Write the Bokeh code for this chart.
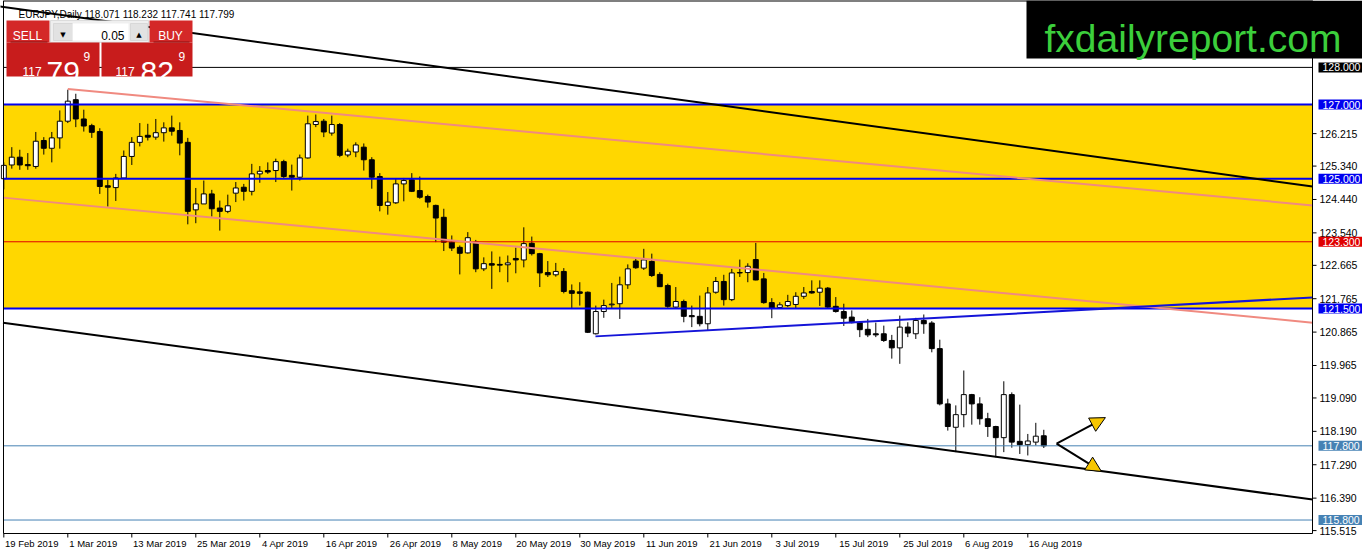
from math import pi
from bokeh.plotting import figure
from bokeh.models import (Range1d, FixedTicker, CustomJSTickFormatter,
                          BoxAnnotation, Label, Arrow, NormalHead)
from bokeh.core.properties import value
from bokeh.embed import file_html
from bokeh.resources import INLINE

# ---------------- data (EURJPY daily) ----------------
bar_open = [125.00, 125.37, 125.58, 125.38, 125.33, 126.03, 125.82, 126.10, 126.55, 127.13,
            126.61, 126.43, 126.27, 124.81, 124.76, 125.02, 125.60, 125.98, 126.17, 126.12,
            126.24, 126.37, 126.30, 125.98, 124.16, 124.32, 124.59, 124.21, 124.12, 124.61,
            124.77, 124.66, 125.13, 125.22, 125.22, 125.46, 125.09, 125.04, 125.56, 126.46,
            126.55, 126.23, 126.46, 125.64, 125.72, 125.85, 125.51, 125.06, 124.28, 124.35,
            124.86, 124.97, 124.68, 124.52, 124.28, 123.96, 123.29, 123.15, 123.00, 123.29,
            122.57, 122.71, 122.69, 122.68, 122.85, 122.81, 123.26, 122.98, 122.47, 122.41,
            122.50, 121.98, 121.95, 121.94, 120.82, 121.42, 121.60, 121.63, 122.14, 122.78,
            122.59, 122.77, 122.42, 122.12, 121.54, 121.69, 121.31, 121.29, 121.09, 121.94,
            122.23, 121.74, 122.47, 122.47, 122.82, 122.30, 121.66, 121.53, 121.58, 121.61,
            121.83, 121.96, 121.94, 122.05, 121.56, 121.42, 121.27, 121.12, 120.94, 120.82,
            120.82, 120.64, 120.44, 121.00, 120.82, 121.18, 121.11, 120.42, 118.93, 118.30,
            118.64, 119.18, 118.93, 118.53, 118.32, 118.02, 119.18, 117.92, 117.83, 117.90,
            118.071]
bar_high = [125.44, 125.85, 125.78, 125.69, 126.26, 126.12, 126.26, 126.84, 127.40, 127.29,
            126.86, 126.48, 126.36, 124.97, 125.13, 125.76, 126.12, 126.50, 126.48, 126.61,
            126.52, 126.70, 126.52, 126.10, 124.75, 124.95, 124.70, 124.41, 124.57, 124.91,
            124.86, 125.40, 125.34, 125.44, 125.54, 125.51, 125.38, 125.65, 126.70, 126.73,
            126.61, 126.70, 126.50, 125.81, 125.98, 125.95, 125.58, 125.15, 124.64, 125.01,
            125.02, 125.15, 125.06, 124.57, 124.30, 124.19, 123.47, 123.20, 123.56, 123.35,
            122.88, 123.04, 122.90, 122.93, 123.14, 123.69, 123.44, 123.00, 122.78, 122.73,
            122.59, 122.15, 122.21, 121.96, 121.58, 121.74, 122.19, 122.36, 122.69, 122.84,
            123.11, 122.98, 122.48, 122.17, 122.08, 121.74, 121.58, 121.85, 122.08, 122.35,
            122.41, 122.57, 122.82, 122.72, 123.27, 122.46, 121.78, 121.67, 121.87, 121.94,
            122.08, 122.26, 122.26, 122.08, 121.81, 121.63, 121.45, 121.15, 121.22, 121.12,
            121.04, 120.79, 121.31, 121.13, 121.25, 121.34, 121.16, 120.66, 119.07, 118.89,
            119.83, 119.20, 119.11, 118.69, 118.34, 119.54, 119.24, 118.91, 118.12, 118.42,
            118.232]
bar_low = [124.71, 125.27, 125.24, 125.24, 125.27, 125.65, 125.44, 125.81, 126.50, 126.39,
           126.27, 126.10, 124.59, 124.25, 124.40, 125.00, 125.37, 125.87, 126.03, 126.05,
           126.00, 126.16, 125.63, 123.77, 123.80, 124.32, 123.98, 123.60, 124.07, 124.37,
           124.41, 124.55, 124.89, 125.13, 124.91, 125.02, 124.68, 124.95, 125.54, 126.39,
           126.12, 126.16, 125.58, 125.58, 125.58, 125.22, 124.73, 124.12, 124.03, 124.32,
           124.39, 124.64, 124.46, 124.22, 123.29, 123.05, 123.05, 122.42, 122.98, 122.48,
           122.51, 122.03, 122.48, 122.21, 122.45, 122.61, 122.93, 122.08, 122.35, 122.36,
           121.91, 121.49, 121.58, 120.84, 120.80, 121.25, 121.49, 121.22, 122.03, 122.57,
           122.54, 122.35, 122.08, 121.52, 121.52, 121.13, 121.00, 121.02, 120.91, 121.90,
           121.58, 121.70, 122.35, 122.21, 122.26, 121.63, 121.24, 121.51, 121.54, 121.51,
           121.76, 121.90, 121.57, 121.51, 121.39, 121.03, 121.10, 120.73, 120.73, 120.73,
           120.60, 120.15, 120.01, 120.73, 120.68, 120.82, 120.32, 118.89, 118.21, 117.63,
           118.30, 118.37, 118.37, 118.04, 117.49, 117.63, 117.75, 117.58, 117.54, 117.81,
           117.741]
bar_close = [125.36, 125.58, 125.37, 125.35, 126.01, 125.82, 126.10, 126.55, 127.09, 126.61,
             126.42, 126.25, 124.79, 124.77, 125.02, 125.60, 125.98, 126.14, 126.12, 126.24,
             126.37, 126.28, 125.96, 124.12, 124.32, 124.59, 124.19, 124.12, 124.27, 124.75,
             124.66, 125.13, 125.20, 125.18, 125.46, 125.06, 125.04, 125.56, 126.48, 126.54,
             126.26, 126.46, 125.63, 125.74, 125.91, 125.51, 125.04, 124.28, 124.37, 124.86,
             124.95, 124.66, 124.50, 124.37, 123.94, 123.29, 123.13, 122.99, 123.41, 122.57,
             122.71, 122.67, 122.67, 122.73, 122.81, 123.25, 122.98, 122.46, 122.41, 122.50,
             121.96, 121.91, 121.91, 120.86, 121.42, 121.58, 121.62, 122.14, 122.57, 122.60,
             122.81, 122.39, 122.09, 121.56, 121.69, 121.29, 121.28, 121.09, 121.92, 122.23,
             121.74, 122.46, 122.46, 122.64, 122.27, 121.66, 121.51, 121.60, 121.69, 121.83,
             121.92, 121.92, 122.05, 121.54, 121.42, 121.24, 121.12, 120.93, 120.79, 120.79,
             120.64, 120.44, 121.00, 120.84, 121.18, 121.09, 120.42, 118.93, 118.32, 118.64,
             119.18, 118.93, 118.53, 118.32, 118.02, 119.18, 117.90, 117.83, 117.93, 118.06,
             117.799]

date_tick_bars = [0, 8, 16, 24, 32, 40, 48, 56, 64, 72, 80, 88, 96, 104, 112, 120, 128]
date_labels = ["19 Feb 2019", "1 Mar 2019", "13 Mar 2019", "25 Mar 2019", "4 Apr 2019",
               "16 Apr 2019", "26 Apr 2019", "8 May 2019", "20 May 2019", "30 May 2019",
               "11 Jun 2019", "21 Jun 2019", "3 Jul 2019", "15 Jul 2019", "25 Jul 2019",
               "6 Aug 2019", "16 Aug 2019"]
price_ticks = [126.215, 125.340, 124.440, 123.540, 122.665, 121.765, 120.865,
               119.965, 119.090, 118.190, 117.290, 116.390, 115.515]

zone_top = 127.0
zone_bottom = 121.5
level_prices = [128.0, 127.0, 125.0, 123.3, 121.5, 117.8, 115.8]

# trend lines (anchor points: bar index, price)
black_upper_x = [-0.5, 163.6]
black_upper_y = [129.64, 124.79]
black_lower_x = [-0.1, 163.6]
black_lower_y = [121.12, 116.35]
pink_upper_x = [8, 163.6]
pink_upper_y = [127.42, 124.28]
pink_lower_x = [-0.1, 163.6]
pink_lower_y = [124.49, 121.12]
blue_trend_x = [73.96, 163.6]
blue_trend_y = [120.75, 121.80]
arrow_start = (131.6, 117.86)
arrow_up_end = (137.7, 118.56)
arrow_down_end = (137.2, 117.11)

header_text = "EURJPY,Daily  118.071 118.232 117.741 117.799"

# ---------------- styles / layout (pixels) ----------------
level_colors = ["black", "#0000F0", "#0000F0", "#E00000", "#0000F0", "#4682B4", "#4682B4"]
level_widths = [1, 2, 2, 1, 2, 1, 1]

W, H = 1362, 554
FW, FH = W, 539              # frame covers the chart and the price scale
PPB = 8.0                    # px per bar
BAR0_PX = 3.3                # px of first bar
LEFT_PX, SCALE_PX = 3, 1312  # chart left border, price scale line
PPU = 37.1                   # px per price unit
REF_PX, REF_PRICE = 104, 127.0
CHART_BOTTOM_PX = 533

XMIN = -BAR0_PX / PPB
XMAX = (W - BAR0_PX) / PPB
XLEFT = (LEFT_PX - BAR0_PX) / PPB
XEDGE = (SCALE_PX - BAR0_PX) / PPB
YMAX = REF_PRICE + REF_PX / PPU
YMIN = REF_PRICE - (FH - REF_PX) / PPU
YBOT = REF_PRICE - (CHART_BOTTOM_PX - REF_PX) / PPU
AXIS_FONT = "Liberation Sans"

p = figure(frame_width=FW, frame_height=FH,
           x_range=Range1d(XMIN, XMAX), y_range=Range1d(YMIN, YMAX),
           y_axis_location=None, output_backend="svg", toolbar_location=None,
           min_border_left=0, min_border_top=0, min_border_right=0,
           min_border_bottom=H - FH,
           background_fill_color="white", border_fill_color="white",
           outline_line_color=None)
p.grid.visible = False

# yellow zone
p.add_layout(BoxAnnotation(top=zone_top, bottom=zone_bottom, left=XLEFT, right=XEDGE,
                           fill_color="#FFD700", fill_alpha=1, line_color=None, level="underlay"))

# candles
idx = list(range(len(bar_open)))
tops = [max(o, c) for o, c in zip(bar_open, bar_close)]
bots = [min(o, c) for o, c in zip(bar_open, bar_close)]
fills = ["white" if c > o else "black" for o, c in zip(bar_open, bar_close)]
p.segment(x0=idx, y0=bar_low, x1=idx, y1=bar_high, line_color="black", line_width=1)
p.vbar(x=idx, width=0.62, top=tops, bottom=bots, fill_color=fills,
       line_color="black", line_width=1)

# horizontal levels (stop at the price scale)
n = len(level_prices)
p.segment(x0=[XLEFT] * n, y0=level_prices, x1=[XEDGE] * n, y1=level_prices,
          line_color=level_colors, line_width=level_widths)

# trend lines
p.line(pink_upper_x, pink_upper_y, line_color="#F08A80", line_width=2)
p.line(pink_lower_x, pink_lower_y, line_color="#F08A80", line_width=2)
p.line(black_upper_x, black_upper_y, line_color="black", line_width=2)
p.line(black_lower_x, black_lower_y, line_color="black", line_width=2)
p.line(blue_trend_x, blue_trend_y, line_color="#1414D8", line_width=2)

for end in (arrow_up_end, arrow_down_end):
    p.add_layout(Arrow(end=NormalHead(size=15, fill_color="#F7C600", line_color="black",
                                      line_width=1),
                       x_start=arrow_start[0], y_start=arrow_start[1],
                       x_end=end[0], y_end=end[1], line_color="black", line_width=2))

# chart frame: left border, top border, bottom line, price-scale line
p.segment(x0=[XLEFT, XLEFT, XLEFT, XEDGE], y0=[YBOT, YMAX, YBOT, YBOT],
          x1=[XLEFT, XEDGE, XEDGE, XEDGE], y1=[YMAX, YMAX, YBOT, YMAX],
          line_color="black", line_width=[1, 2, 1, 1])

# time ticks (down from the bottom line)
p.ray(x=date_tick_bars, y=[YBOT] * len(date_tick_bars), length=4, length_units="screen",
      angle=-pi / 2, line_color="black", line_width=1)

# price scale (right)
p.ray(x=[XEDGE] * len(price_ticks), y=price_ticks, length=4, length_units="screen",
      angle=0, line_color="black", line_width=1)
p.text(x=[XEDGE] * len(price_ticks), y=price_ticks, text=["%.3f" % v for v in price_ticks],
       x_offset=7, text_baseline="middle", text_align="left",
       text_font=value(AXIS_FONT), text_font_size="10.5px", text_color="black")

for lv, col in zip(level_prices, level_colors):
    p.add_layout(Label(x=XEDGE, y=lv, x_offset=6, text="%.3f" % lv, text_color="white",
                       text_font=AXIS_FONT, text_font_size="10.5px",
                       text_baseline="middle", text_align="left",
                       background_fill_color=col, background_fill_alpha=1,
                       padding=dict(left=4, right=4, top=1, bottom=1)))

# time axis labels (below), left-aligned at their tick like the original
label_centers = [b + (len(s) * 4.9 / 2 + 1) / PPB for b, s in zip(date_tick_bars, date_labels)]
xax = p.xaxis[0]
xax.ticker = FixedTicker(ticks=label_centers, minor_ticks=[])
xax.formatter = CustomJSTickFormatter(args=dict(labels=date_labels), code="return labels[index];")
xax.major_tick_line_color = None
xax.minor_tick_line_color = None
xax.major_tick_out = 0
xax.major_tick_in = 0
xax.axis_line_color = None
xax.major_label_standoff = -2
xax.major_label_text_font = AXIS_FONT
xax.major_label_text_font_size = "9.5px"
xax.major_label_text_color = "black"


# ---------- overlay decorations (reference pixel coords, y from top) ----------
def box(x0, y0, x1, y1, fill, line=None):
    p.add_layout(BoxAnnotation(left=x0, right=x1, top=FH - y0, bottom=FH - y1,
                               left_units="screen", right_units="screen",
                               top_units="screen", bottom_units="screen",
                               fill_color=fill, fill_alpha=1, line_color=line,
                               line_width=1, level="overlay"))


def txt(s, x, y, size, color="white", align="left", font="Liberation Sans", baseline="alphabetic"):
    p.add_layout(Label(x=x, y=FH - y, x_units="screen", y_units="screen", text=s,
                       text_font=font, text_font_size=f"{size}px", text_color=color,
                       text_align=align, text_baseline=baseline, level="overlay"))


txt(header_text, 18, 14, 10, "black")

# one-click trading panel
box(6, 20, 49, 42, "#D42828")
box(50, 20, 148, 42, "#EFEFEF", "#A0A0A0")
box(53, 23, 72, 40, "#E2E2E2", "#B4B4B4")
box(72, 23, 128, 40, "white")
box(130, 23, 147, 40, "#E2E2E2", "#B4B4B4")
box(149, 20, 192, 42, "#D42828")
box(6, 42, 99, 76, "#C81C1C")
box(101, 42, 192, 76, "#C81C1C")
box(10, 41, 47, 42, "#8A0E0E")
box(153, 41, 189, 42, "#8A0E0E")
txt("SELL", 27, 35, 12, align="center")
txt("BUY", 170, 35, 12, align="center")
txt("0.05", 124, 35, 12, "black", align="right")
txt("\u25BC", 62.5, 34, 7, "black", align="center", font="DejaVu Sans")
txt("\u25B2", 138.5, 34, 7, "black", align="center", font="DejaVu Sans")
txt("117", 22, 71, 12)
txt("79", 46, 71, 30)
txt("9", 83, 56, 12)
txt("117", 115, 71, 12)
txt("82", 140, 71, 30)
txt("9", 178, 56, 12)

# logo
box(1026, 0, 1362, 58, "black")
txt("fxdailyreport.com", 1192.5, 38, 39, "#3CCF3C", align="center")

open("out.html", "w").write(file_html(p, INLINE))
